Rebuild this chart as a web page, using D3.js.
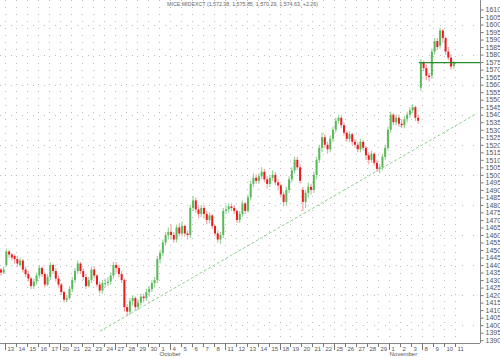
<!DOCTYPE html>
<html><head><meta charset="utf-8">
<script src="https://cdn.jsdelivr.net/npm/d3@7"></script>
<style>
body{margin:0;background:#fff;}
svg{display:block;}
text{font-family:"Liberation Sans",Arial,sans-serif;}
</style>
</head><body>
<svg id="chart" width="500" height="358"></svg>
<script>
const title = "MICE:MIDEXCT (1,572.38, 1,575.85, 1,570.29, 1,574.63, +2.26)";
// trading day labels (day index 0..41)
const dayLabels = ["13","14","15","16","17","20","21","22","23","24","27","28","29","30",
  "1","4","5","6","7","8","11","12","13","14","15","18","19","20","21","22","25","26","27","28","29",
  "1","2","3","8","9","10","11"];
const weekStartDays = [0,5,10,15,20,25,30,35,38];
const monthNames = ["October","November"];
const monthStartDays = [14,35];
const yTickValues = [1390,1395,1400,1405,1410,1415,1420,1425,1430,1435,1440,1445,1450,1455,1460,1465,1470,1475,1480,1485,1490,1495,1500,1505,1510,1515,1520,1525,1530,1535,1540,1545,1550,1555,1560,1565,1570,1575,1580,1585,1590,1595,1600,1605,1610];
const gridPrices = [1400,1420,1440,1460,1480,1500,1520,1540,1560,1580,1600];
const firstDay = -1;
const candlesPerDay = 4;
// OHLC, 4 candles per day, starting at day -1
const opens = [
1435,1436,1437,1435, 1440,1449,1447,1446, 1444,1440,1443,1437, 1434,1431,1426,1429,
1433,1438,1434,1427, 1432,1440,1436,1431, 1427,1422,1417,1418, 1424,1430,1436,1441,
1436,1432,1426,1430, 1437,1433,1427,1423, 1428,1428,1429,1433, 1440,1438,1434,1430,
1412,1409,1416,1418, 1412,1415,1419,1418, 1422,1424,1428,1430, 1444,1448,1455,1460,
1462,1460,1457,1465, 1461,1466,1461,1460, 1478,1483,1477,1474, 1478,1474,1470,1473,
1466,1461,1457,1460, 1476,1477,1479,1478, 1476,1470,1474,1481, 1476,1485,1494,1498,
1496,1499,1502,1497, 1494,1498,1500,1495, 1493,1487,1482,1490, 1497,1503,1510,1505,
1490,1482,1488,1492, 1490,1500,1510,1518, 1525,1520,1517,1524, 1530,1536,1538,1533,
1528,1524,1527,1522, 1520,1517,1522,1518, 1513,1510,1514,1508, 1504,1505,1512,1518,
1530,1540,1535,1538, 1534,1533,1537,1540, 1543,1545,1538,1558, 1575,1571,1566,1566,
1582,1589,1586,1596, 1591,1582,1578,1572.38];
const highs = [
1438,1439,1438,1439, 1451,1450,1448,1447, 1446,1445,1444,1439, 1436,1432,1431,1435,
1440,1439,1435,1434, 1442,1441,1438,1433, 1428,1423,1420,1426, 1432,1438,1443,1442,
1438,1434,1432,1439, 1439,1434,1429,1430, 1431,1432,1435,1442, 1442,1440,1436,1431,
1414,1418,1420,1419, 1417,1421,1421,1424, 1426,1430,1432,1446, 1450,1457,1462,1465,
1467,1462,1467,1468, 1469,1467,1463,1480, 1486,1485,1479,1480, 1480,1476,1475,1474,
1467,1463,1462,1478, 1480,1481,1481,1480, 1477,1476,1483,1482, 1487,1496,1501,1500,
1501,1505,1504,1499, 1500,1503,1502,1497, 1494,1489,1492,1499, 1505,1512,1512,1507,
1492,1490,1495,1494, 1502,1512,1520,1528, 1527,1522,1526,1532, 1538,1540,1539,1535,
1529,1529,1528,1524, 1522,1524,1523,1519, 1515,1516,1515,1510, 1507,1514,1520,1532,
1542,1541,1540,1540, 1537,1539,1542,1545, 1547,1546,1540,1577, 1576,1573,1568,1584,
1591,1591,1598,1597, 1592,1585,1580,1575.85];
const lows = [
1433,1434,1433,1434, 1439,1445,1443,1441, 1439,1439,1435,1432, 1429,1424,1424,1427,
1431,1432,1425,1426, 1430,1434,1429,1425, 1420,1415,1415,1417, 1422,1428,1434,1434,
1430,1424,1425,1428, 1431,1425,1421,1421, 1425,1426,1427,1431, 1435,1432,1428,1409,
1406,1407,1413,1410, 1410,1413,1415,1416, 1419,1422,1425,1428, 1441,1446,1453,1457,
1457,1455,1455,1459, 1459,1459,1457,1458, 1476,1475,1471,1472, 1471,1467,1468,1464,
1459,1455,1454,1458, 1474,1475,1476,1474, 1468,1468,1472,1474, 1475,1483,1492,1494,
1494,1497,1495,1491, 1492,1496,1493,1490, 1485,1479,1480,1488, 1495,1501,1503,1494,
1476,1478,1485,1487, 1488,1497,1508,1515, 1518,1514,1515,1522, 1528,1534,1531,1526,
1522,1522,1520,1518, 1515,1515,1516,1510, 1507,1508,1506,1502, 1501,1503,1510,1516,
1528,1533,1533,1532, 1531,1531,1535,1538, 1541,1536,1534,1556, 1569,1563,1562,1564,
1580,1583,1584,1588, 1580,1576,1570,1570.29];
const closes = [
1436,1437,1435,1437, 1449,1447,1445,1444, 1441,1443,1437,1434, 1431,1426,1429,1433,
1438,1434,1427,1432, 1440,1436,1431,1427, 1422,1417,1418,1424, 1430,1436,1441,1436,
1432,1426,1430,1437, 1433,1427,1423,1428, 1428,1429,1433,1440, 1438,1434,1430,1412,
1409,1416,1418,1412, 1415,1419,1418,1422, 1424,1428,1430,1444, 1448,1455,1460,1462,
1460,1457,1465,1461, 1466,1461,1460,1478, 1483,1477,1474,1478, 1474,1470,1473,1466,
1461,1457,1460,1476, 1477,1479,1478,1476, 1470,1474,1481,1476, 1485,1494,1498,1496,
1499,1502,1497,1494, 1498,1500,1495,1493, 1487,1482,1490,1497, 1503,1510,1505,1496,
1482,1488,1492,1490, 1500,1510,1518,1525, 1520,1517,1524,1530, 1536,1538,1533,1528,
1524,1527,1522,1520, 1517,1522,1518,1513, 1510,1514,1508,1504, 1505,1512,1518,1530,
1540,1535,1538,1534, 1533,1537,1540,1543, 1545,1538,1536,1575, 1571,1566,1565,1582,
1589,1585,1596,1591, 1582,1578,1572,1574.63];
// support trend line: [day position, price]
const trendLine = [[8.65,1396],[43,1541]];
// last-close reference line starts at this candle index
const refLineStartCandle = 155;

const svg = d3.select("#chart");
const plotRight = 480, plotBottom = 343;

const x = d3.scaleLinear().domain([0,41]).range([5, 5 + 10.98*41]);
const y = d3.scaleLinear().domain([1390,1610]).range([340.2, 9.5]);

const candles = closes.map((c,i)=>({
  pos: firstDay + (i + 0.5)/candlesPerDay,
  o: opens[i], h: highs[i], l: lows[i], c: c
}));

const defs = svg.append("defs");
defs.append("clipPath").attr("id","plot").append("rect")
  .attr("x",0).attr("y",0).attr("width",plotRight).attr("height",plotBottom);

// grid
const grid = svg.append("g");
grid.selectAll("line.v").data(d3.range(dayLabels.length)).enter().append("line")
  .attr("x1",d=>Math.round(x(d))+0.5).attr("x2",d=>Math.round(x(d))+0.5)
  .attr("y1",0).attr("y2",plotBottom)
  .attr("stroke","#bdbdbd").attr("stroke-dasharray","1,6");
grid.selectAll("line.h").data(gridPrices).enter().append("line")
  .attr("x1",0).attr("x2",plotRight)
  .attr("y1",d=>Math.round(y(d))+0.5).attr("y2",d=>Math.round(y(d))+0.5)
  .attr("stroke","#bdbdbd").attr("stroke-dasharray","1,10");

const plot = svg.append("g").attr("clip-path","url(#plot)");

// trend line
plot.append("line")
  .attr("x1",x(trendLine[0][0])).attr("y1",y(trendLine[0][1]))
  .attr("x2",x(trendLine[1][0])).attr("y2",y(trendLine[1][1]))
  .attr("stroke","#8fd08f").attr("stroke-width",1).attr("stroke-dasharray","3,2");

// candles
const bw = 2;
const cg = plot.selectAll("g.c").data(candles).enter().append("g");
cg.append("line")
  .attr("x1",d=>x(d.pos)).attr("x2",d=>x(d.pos))
  .attr("y1",d=>y(d.h)).attr("y2",d=>y(d.l))
  .attr("stroke",d=>d.c>=d.o?"#9ad49a":"#f4a6a6").attr("stroke-width",1.2);
cg.append("rect")
  .attr("x",d=>x(d.pos)-bw/2)
  .attr("y",d=>y(Math.max(d.o,d.c)))
  .attr("width",bw)
  .attr("height",d=>Math.max(1, Math.abs(y(d.o)-y(d.c))))
  .attr("fill",d=>d.c>=d.o?"#5cb85c":"#e81c1c");

// last close reference line
const lastClose = closes[closes.length-1];
plot.append("line")
  .attr("x1",x(candles[refLineStartCandle].pos)-2).attr("x2",plotRight)
  .attr("y1",y(lastClose)).attr("y2",y(lastClose))
  .attr("stroke","#2a8a2a").attr("stroke-width",1.3);

// y axis
const yAxis = d3.axisRight(y).tickValues(yTickValues).tickSize(3).tickPadding(2).tickFormat(d3.format("d"));
const ya = svg.append("g").attr("transform",`translate(${plotRight+0.5},0)`).call(yAxis);
ya.select(".domain").remove();
ya.selectAll("line").attr("stroke","#777");
ya.selectAll("text").attr("font-size","7px").attr("fill","#555").attr("font-family","Liberation Sans, Arial, sans-serif");
svg.append("line").attr("x1",plotRight+0.5).attr("x2",plotRight+0.5).attr("y1",0).attr("y2",plotBottom)
  .attr("stroke","#888");

// x axis
svg.append("line").attr("x1",0).attr("x2",plotRight).attr("y1",plotBottom+0.5).attr("y2",plotBottom+0.5)
  .attr("stroke","#888");
const xa = svg.append("g");
const xt = xa.selectAll("g").data(d3.range(dayLabels.length)).enter().append("g")
  .attr("transform",d=>`translate(${Math.round(x(d))+0.5},${plotBottom})`);
xt.append("line").attr("y1",0).attr("y2",d=>weekStartDays.includes(d)?7:4).attr("stroke","#777");
xt.append("text").attr("x",2).attr("y",7.5).attr("font-size","6px").attr("fill","#555")
  .text(d=>dayLabels[d]);
xa.selectAll("text.m").data(monthStartDays).enter().append("text")
  .attr("x",d=>Math.round(x(d))+0.5).attr("y",356).attr("font-size","6px").attr("fill","#555")
  .text((d,i)=>monthNames[i]);

// title
svg.append("text").attr("x",167).attr("y",5.5).attr("font-size","6px").attr("fill","#666")
  .attr("textLength",151).attr("lengthAdjust","spacingAndGlyphs").text(title);
</script>
</body></html>
